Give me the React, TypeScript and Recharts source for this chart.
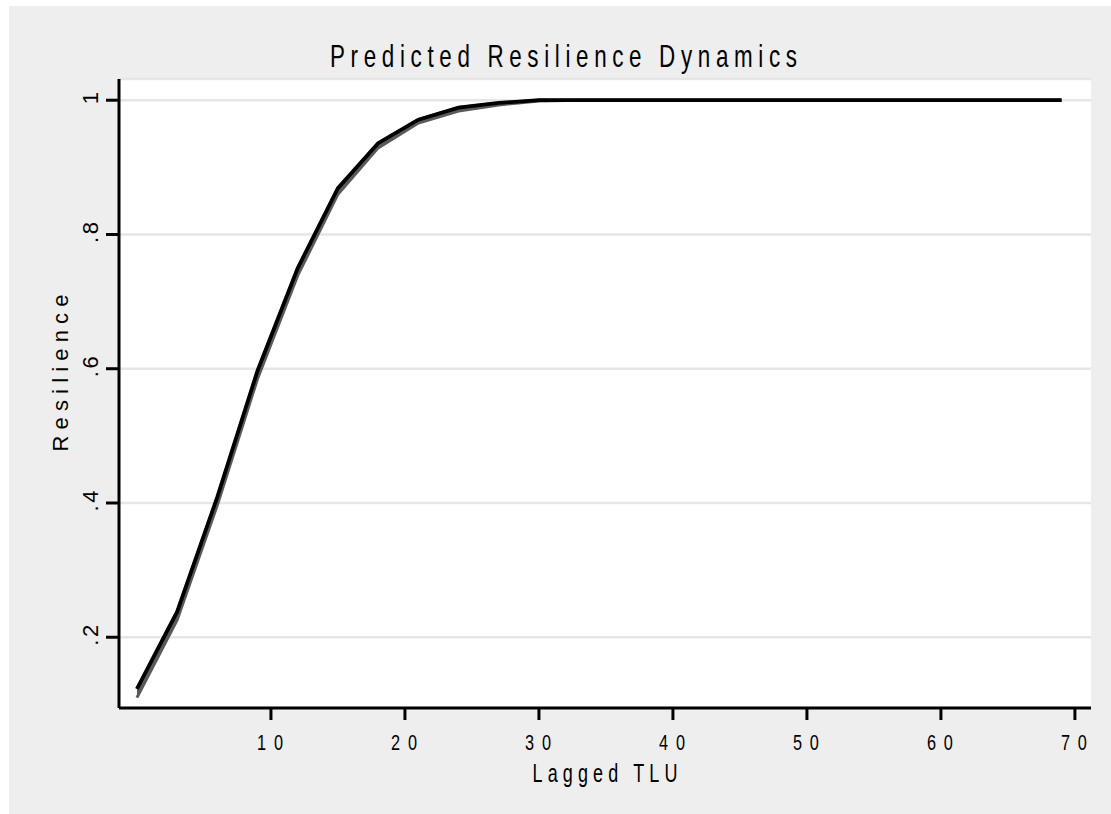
import React from "react";
import { ComposedChart, Line, Area, XAxis, YAxis, CartesianGrid, Label } from "recharts";

const lagTLU = [0, 3, 6, 9, 12, 15, 18, 21, 24, 27, 30, 33, 36, 39, 42, 45, 48, 51, 54, 57, 60, 63, 66, 69];
const predicted = [0.123, 0.238, 0.409, 0.597, 0.75, 0.869, 0.936, 0.971, 0.989, 0.996, 1.0, 1.0, 1.0, 1.0, 1.0, 1.0, 1.0, 1.0, 1.0, 1.0, 1.0, 1.0, 1.0, 1.0];
const lowerBound = [0.11, 0.226, 0.397, 0.585, 0.739, 0.86, 0.929, 0.966, 0.984, 0.993, 0.999, 1.0, 1.0, 1.0, 1.0, 1.0, 1.0, 1.0, 1.0, 1.0, 1.0, 1.0, 1.0, 1.0];

const xTicks = [10, 20, 30, 40, 50, 60, 70];
const yTicks = [0.2, 0.4, 0.6, 0.8, 1.0];
const yTickLabels = [".2", ".4", ".6", ".8", "1"];

const titleText = "Predicted Resilience Dynamics";
const xTitle = "Lagged TLU";
const yTitle = "Resilience";

const data = lagTLU.map((x, i) => ({
  x,
  pred: predicted[i],
  band: [lowerBound[i], predicted[i]],
}));

const FONT = "'Liberation Sans', Arial, sans-serif";

function NText({ x, y, text, fontSize, width, sx, rotate = 0 }: any) {
  const extra: any = text.length > 1 && width ? { textLength: width / sx, lengthAdjust: "spacing" } : {};
  return (
    <text
      transform={`translate(${x},${y}) rotate(${rotate}) scale(${sx},1)`}
      textAnchor="middle"
      fontSize={fontSize}
      fontFamily={FONT}
      fill="#000"
      {...extra}
    >
      {text}
    </text>
  );
}

const XTick = (props: any) => {
  const { x, y, payload } = props;
  return <NText x={x - 1} y={y + 28} text={String(payload.value)} fontSize={22} width={26} sx={0.74} />;
};

const YTick = (props: any) => {
  const { x, y, payload } = props;
  const idx = yTicks.findIndex((t) => Math.abs(t - payload.value) < 1e-6);
  const label = idx >= 0 ? yTickLabels[idx] : String(payload.value);
  return <NText x={x - 6} y={y - 2} text={label} fontSize={22} width={21} sx={1} rotate={-90} />;
};

const XTitle = (props: any) => {
  const vb = props.viewBox || {};
  const cx = vb.x + vb.width / 2;
  return <NText x={cx} y={vb.y + 74} text={xTitle} fontSize={25} width={145} sx={0.72} />;
};

const YTitle = () => {
  return <NText x={68} y={373} text={yTitle} fontSize={22} width={157} sx={1} rotate={-90} />;
};

export default function App() {
  return (
    <div style={{ position: "absolute", left: 0, top: 0, width: 1111, height: 814, background: "#fff" }}>
      <div style={{ position: "absolute", left: 9, top: 6, width: 1102, height: 808, background: "#eeeeee" }} />
      <div style={{ position: "absolute", left: 0, top: 0 }}>
        <ComposedChart width={1111} height={814} data={data} margin={{ top: 79, right: 20, bottom: 46, left: 59 }}>
          <CartesianGrid vertical={false} horizontal={true} stroke="#e6e6e6" strokeWidth={2.5} fill="#ffffff" fillOpacity={1} />
          <XAxis
            dataKey="x"
            type="number"
            domain={[-1.34, 71.2]}
            ticks={xTicks}
            allowDataOverflow
            height={60}
            tickSize={12}
            tickMargin={2}
            tickLine={{ stroke: "#000", strokeWidth: 3 }}
            axisLine={{ stroke: "#000", strokeWidth: 3 }}
            tick={<XTick />}
            interval={0}
          >
            <Label content={<XTitle />} />
          </XAxis>
          <YAxis
            type="number"
            domain={[0.0946, 1.0316]}
            ticks={yTicks}
            allowDataOverflow
            width={60}
            tickSize={13}
            tickMargin={2}
            tickLine={{ stroke: "#000", strokeWidth: 3 }}
            axisLine={{ stroke: "#000", strokeWidth: 3 }}
            tick={<YTick />}
            interval={0}
          >
            <Label content={<YTitle />} />
          </YAxis>
          <Area
            dataKey="band"
            type="linear"
            stroke="#5a5a5a"
            strokeWidth={3}
            fill="#5a5a5a"
            fillOpacity={1}
            isAnimationActive={false}
            dot={false}
            activeDot={false}
          />
          <Line
            dataKey="pred"
            type="linear"
            stroke="#000"
            strokeWidth={3.8}
            dot={false}
            activeDot={false}
            isAnimationActive={false}
          />
        </ComposedChart>
      </div>
      <svg width={1111} height={100} style={{ position: "absolute", left: 0, top: 0, pointerEvents: "none" }}>
        <NText x={563.5} y={67} text={titleText} fontSize={32} width={467} sx={0.7} />
      </svg>
    </div>
  );
}
